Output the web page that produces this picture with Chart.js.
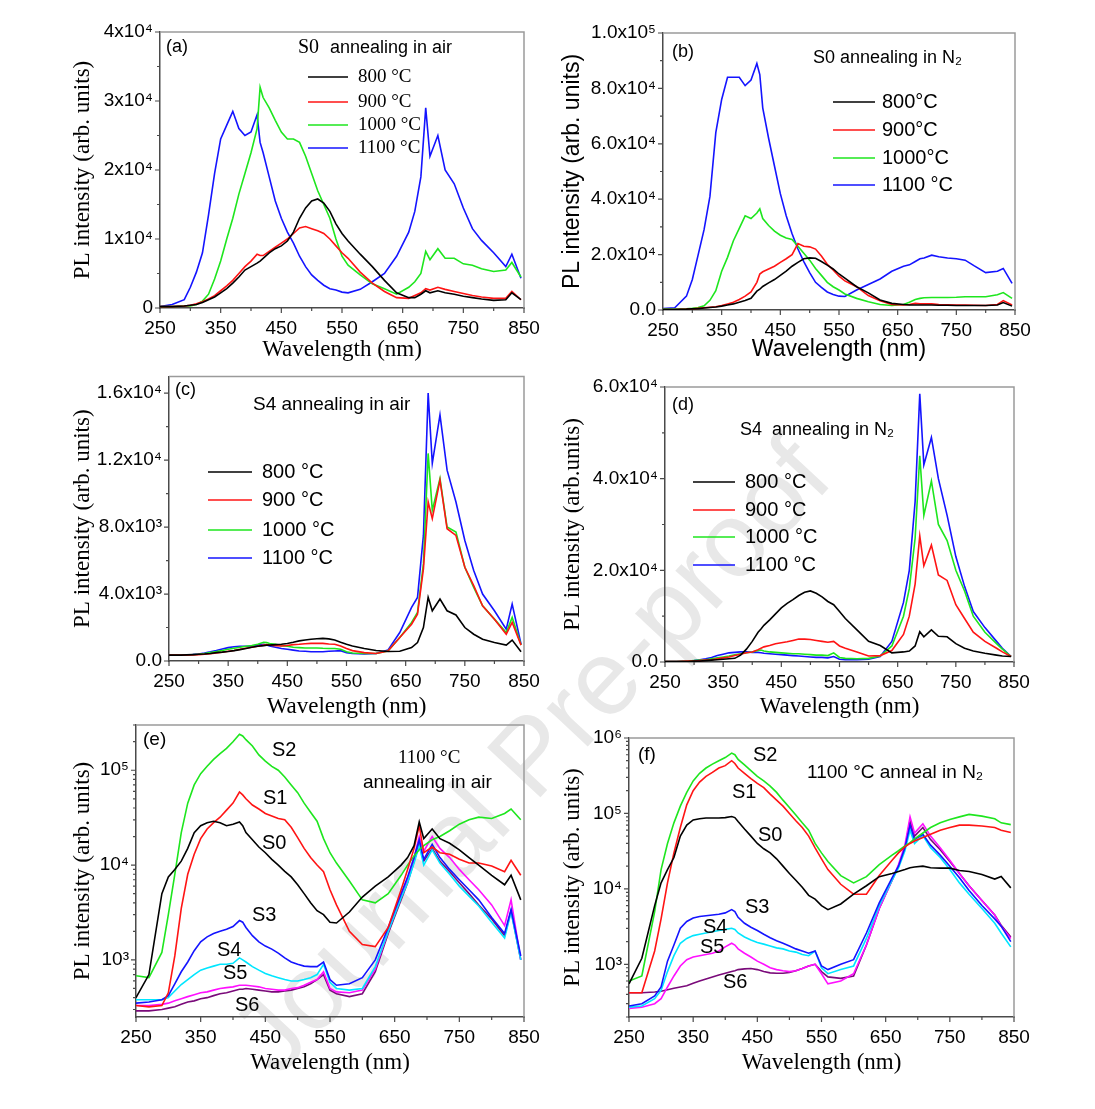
<!DOCTYPE html>
<html>
<head>
<meta charset="utf-8">
<title>PL spectra</title>
<script src="https://cdn.jsdelivr.net/npm/chart.js@4.4.0/dist/chart.umd.min.js"></script>
<style>
  body { margin: 0; background: #fff; width: 1095px; height: 1109px; position: relative; overflow: hidden; }
  canvas { position: absolute; }
  #wm {
    position: absolute; left: 530px; top: 755px;
    transform: translate(-50%, -50%) rotate(-47deg);
    font: 106px "Liberation Sans", Arial, sans-serif;
    color: #e8e8e8; white-space: nowrap;
  }
</style>
</head>
<body>
<div id="wm">Journal Pre-proof</div>
<canvas id="pa"></canvas>
<canvas id="pb"></canvas>
<canvas id="pc"></canvas>
<canvas id="pd"></canvas>
<canvas id="pe"></canvas>
<canvas id="pf"></canvas>
<script>
// wavelength grid (nm) shared by every spectrum
const WL = [250, 270, 290, 300, 310, 320, 330, 340, 350, 360,
            370, 380, 390, 400, 410, 415, 420, 430, 440, 450,
            460, 470, 480, 490, 500, 510, 520, 530, 540, 550,
            560, 580, 600, 620, 640, 660, 670, 680, 688, 695,
            708, 720, 735, 750, 765, 780, 800, 820, 830, 845];

const X_TICKS = [250, 350, 450, 550, 650, 750, 850];
const X_MINOR = [300, 400, 500, 600, 700, 800];

// (a) S0 annealing in air -- values in units of 1e4
const A_800 = [.02, .02, .03, .04, .05, .08, .12, .16, .22, .28,
               .36, .45, .55, .60, .65, .68, .72, .80, .86, .90,
               .97, 1.10, 1.30, 1.45, 1.55, 1.58, 1.52, 1.40, 1.22, 1.08,
               .97, .78, .60, .40, .22, .15, .15, .20, .25, .22,
               .25, .22, .20, .17, .15, .13, .11, .12, .22, .12];
const A_900 = [.02, .02, .03, .04, .06, .09, .13, .18, .25, .32,
               .40, .50, .60, .68, .78, .76, .76, .82, .88, .94,
               1.00, 1.08, 1.16, 1.18, 1.15, 1.12, 1.08, 1.00, .90, .80,
               .72, .52, .36, .24, .15, .14, .18, .22, .28, .26,
               .30, .27, .24, .21, .18, .16, .14, .14, .24, .12];
const A_1000 = [.02, .02, .03, .03, .05, .10, .20, .42, .68, 1.00,
                1.30, 1.65, 1.95, 2.25, 2.60, 3.20, 3.05, 2.90, 2.72, 2.55,
                2.45, 2.45, 2.40, 2.20, 1.95, 1.70, 1.50, 1.30, 1.00, .75,
                .62, .48, .35, .28, .20, .30, .38, .50, .82, .70,
                .86, .72, .72, .64, .62, .57, .53, .55, .66, .45];
const A_1100 = [.02, .05, .12, .30, .52, .80, 1.35, 1.95, 2.45, 2.65,
                2.85, 2.60, 2.50, 2.55, 2.80, 2.40, 2.25, 1.90, 1.55, 1.30,
                1.10, .94, .75, .60, .48, .40, .33, .28, .26, .23,
                .22, .27, .38, .50, .75, 1.10, 1.40, 1.90, 2.90, 2.20,
                2.50, 2.00, 1.80, 1.45, 1.15, .98, .80, .60, .78, .43];
const Y_TICKS_A = [0, 1e4, 2e4, 3e4, 4e4];
const Y_LABELS_A = ['0', '1x10⁴', '2x10⁴', '3x10⁴', '4x10⁴'];
const Y_MINOR_A = [5e3, 1.5e4, 2.5e4, 3.5e4];

// (b) S0 annealing in N2 -- units of 1e4
const B_800 = [.02, .02, .03, .04, .05, .07, .09, .11, .14, .18,
               .22, .28, .34, .42, .68, .75, .85, .98, 1.10, 1.25,
               1.40, 1.58, 1.72, 1.85, 1.88, 1.87, 1.75, 1.62, 1.48, 1.30,
               1.15, .84, .62, .36, .24, .20, .18, .18, .18, .18,
               .18, .17, .17, .16, .16, .16, .16, .18, .27, .14];
const B_900 = [.02, .02, .03, .04, .06, .08, .10, .12, .16, .22,
               .28, .38, .50, .65, 1.00, 1.30, 1.38, 1.48, 1.58, 1.72,
               1.85, 2.00, 2.40, 2.30, 2.28, 2.20, 1.95, 1.65, 1.45, 1.22,
               1.05, .84, .52, .33, .20, .18, .20, .24, .22, .22,
               .22, .20, .19, .18, .18, .17, .16, .20, .34, .18];
const B_1000 = [.03, .03, .04, .06, .09, .15, .35, .70, 1.40, 1.90,
                2.50, 2.95, 3.40, 3.30, 3.50, 3.65, 3.30, 3.05, 2.85, 2.70,
                2.60, 2.55, 2.30, 2.05, 1.80, 1.50, 1.25, 1.00, .84, .72,
                .58, .42, .30, .20, .16, .20, .28, .38, .42, .44,
                .45, .45, .45, .46, .48, .48, .48, .55, .63, .42];
const B_1100 = [.05, .08, .50, 1.10, 2.00, 2.90, 4.10, 6.40, 7.60, 8.40,
                8.40, 8.40, 8.10, 8.30, 8.90, 8.50, 7.30, 6.20, 5.20, 4.20,
                3.40, 2.75, 2.20, 1.75, 1.35, 1.00, .82, .65, .56, .50,
                .49, .72, .92, 1.12, 1.40, 1.58, 1.63, 1.75, 1.85, 1.88,
                1.98, 1.92, 1.88, 1.85, 1.80, 1.60, 1.35, 1.40, 1.50, .96];
const Y_TICKS_B = [0, 2e4, 4e4, 6e4, 8e4, 1e5];
const Y_LABELS_B = ['0.0', '2.0x10⁴', '4.0x10⁴', '6.0x10⁴', '8.0x10⁴', '1.0x10⁵'];
const Y_MINOR_B = [1e4, 3e4, 5e4, 7e4, 9e4];

// (c) S4 annealing in air -- units of 1e3
const C_800 = [.35, .35, .38, .40, .42, .45, .50, .53, .57, .62,
               .68, .75, .82, .88, .92, .95, .95, .98, 1.00, 1.05,
               1.12, 1.20, 1.25, 1.30, 1.33, 1.35, 1.32, 1.25, 1.12, 1.00,
               .90, .75, .63, .57, .58, .80, 1.10, 2.00, 3.80, 3.00,
               3.70, 3.00, 2.75, 2.00, 1.60, 1.30, 1.10, .95, 1.25, .55];
const C_900 = [.35, .35, .36, .38, .40, .43, .48, .52, .58, .63,
               .70, .76, .82, .88, .95, .98, .95, .92, .90, .93,
               .98, 1.00, 1.03, 1.05, 1.05, 1.05, 1.02, 1.00, .90, .75,
               .62, .50, .45, .60, 1.40, 2.20, 2.80, 5.50, 9.50, 8.50,
               10.8, 7.90, 7.50, 5.60, 4.50, 3.30, 2.50, 1.60, 2.30, .95];
const C_1000 = [.35, .35, .37, .40, .44, .50, .56, .63, .70, .76,
                .82, .88, .93, 1.00, 1.12, 1.10, 1.05, 1.00, .92, .88,
                .82, .80, .78, .78, .78, .76, .75, .75, .70, .55,
                .48, .45, .45, .60, 1.40, 2.30, 2.90, 5.80, 12.4, 9.00,
                10.9, 8.00, 7.70, 5.60, 4.40, 3.30, 2.50, 1.70, 2.60, .95];
const C_1100 = [.35, .35, .38, .42, .48, .55, .63, .72, .80, .85,
                .88, .88, .90, .95, 1.00, .95, .90, .82, .75, .70,
                .65, .60, .58, .55, .55, .55, .58, .60, .62, .50,
                .45, .42, .45, .65, 1.70, 3.20, 3.80, 7.50, 16.0, 11.8,
                14.7, 11.4, 9.50, 7.20, 5.40, 4.00, 3.00, 1.90, 3.40, 1.00];
const Y_TICKS_C = [0, 4e3, 8e3, 1.2e4, 1.6e4];
const Y_LABELS_C = ['0.0', '4.0x10³', '8.0x10³', '1.2x10⁴', '1.6x10⁴'];
const Y_MINOR_C = [2e3, 6e3, 1e4, 1.4e4];

// (d) S4 annealing in N2 -- units of 1e4
const D_800 = [.01, .01, .01, .02, .02, .03, .04, .05, .06, .07,
               .08, .15, .28, .45, .65, .72, .80, .92, 1.05, 1.18,
               1.28, 1.36, 1.45, 1.52, 1.55, 1.50, 1.42, 1.32, 1.25, 1.10,
               .95, .70, .45, .36, .20, .22, .24, .35, .66, .55,
               .70, .56, .55, .40, .30, .24, .19, .15, .13, .12];
const D_900 = [.01, .01, .02, .02, .03, .04, .05, .07, .09, .11,
               .14, .17, .20, .22, .27, .30, .33, .36, .40, .42,
               .44, .47, .50, .50, .49, .47, .45, .43, .45, .35,
               .30, .22, .13, .14, .25, .60, 1.00, 1.70, 2.75, 2.10,
               2.55, 1.90, 1.78, 1.25, .95, .65, .45, .30, .22, .12];
const D_1000 = [.01, .01, .02, .03, .04, .05, .07, .09, .11, .13,
                .16, .18, .20, .22, .25, .26, .24, .22, .21, .20,
                .19, .18, .18, .17, .16, .15, .15, .14, .20, .10,
                .08, .07, .08, .13, .35, 1.00, 1.60, 2.70, 4.50, 3.20,
                3.95, 3.00, 2.65, 2.00, 1.55, 1.00, .65, .40, .28, .12];
const D_1100 = [.01, .01, .02, .03, .05, .07, .10, .14, .17, .20,
                .21, .22, .22, .21, .21, .20, .19, .18, .17, .16,
                .15, .14, .13, .12, .11, .10, .10, .09, .12, .06,
                .05, .05, .06, .12, .45, 1.30, 2.00, 3.50, 5.85, 4.30,
                4.90, 4.00, 3.20, 2.30, 1.65, 1.10, .75, .45, .30, .12];
const Y_TICKS_D = [0, 2e4, 4e4, 6e4];
const Y_LABELS_D = ['0.0', '2.0x10⁴', '4.0x10⁴', '6.0x10⁴'];
const Y_MINOR_D = [1e4, 3e4, 5e4];

// (e) 1100 C annealing in air, samples S0-S6 (log axis, raw counts)
const E_S0 = [400, 700, 5000, 7500, 9000, 11000, 15000, 22000, 26000, 28000,
              29000, 28000, 26000, 27000, 28500, 26000, 22000, 18500, 15500, 13500,
              11500, 10000, 8600, 7500, 6200, 5000, 4000, 3300, 3000, 2500,
              2450, 3200, 4600, 6000, 7500, 10000, 12000, 16000, 28500, 19000,
              24000, 19000, 17000, 14500, 12000, 10000, 7800, 6200, 7800, 4300];
const E_S1 = [330, 320, 330, 450, 1100, 3500, 8000, 13000, 19000, 24000,
              28000, 32000, 38000, 45000, 59000, 55000, 50000, 43000, 39000, 35000,
              33000, 31000, 30000, 25000, 19500, 15000, 12000, 10000, 8500, 5500,
              3800, 2000, 1450, 1380, 2200, 5500, 9000, 15000, 26000, 13500,
              15500, 13500, 13000, 11500, 10500, 10500, 9800, 8500, 11200, 7800];
const E_S2 = [680, 650, 1200, 3000, 8000, 22000, 45000, 70000, 92000, 110000,
              130000, 150000, 170000, 200000, 240000, 230000, 210000, 180000, 145000, 125000,
              110000, 100000, 85000, 70000, 58000, 45000, 36000, 29000, 19000, 13500,
              10500, 6800, 4300, 4000, 5000, 7800, 10000, 12500, 14500, 16000,
              18500, 20000, 23000, 27000, 30000, 32000, 31000, 35000, 39000, 30000];
const E_S3 = [350, 360, 380, 420, 560, 750, 950, 1250, 1550, 1750,
              1900, 2000, 2100, 2250, 2600, 2500, 2200, 1800, 1550, 1400,
              1300, 1180, 1050, 950, 900, 860, 850, 850, 950, 620,
              540, 560, 650, 1000, 2200, 5000, 7500, 12000, 18500, 11500,
              16500, 12000, 9000, 7000, 5500, 4300, 2800, 1900, 3400, 1100];
const E_S4 = [380, 380, 380, 400, 470, 550, 620, 700, 780, 820,
              860, 900, 900, 920, 1050, 1000, 950, 850, 780, 720,
              680, 650, 620, 600, 600, 620, 650, 700, 900, 580,
              500, 480, 500, 850, 2000, 4500, 6500, 10500, 16000, 10000,
              14500, 10500, 8000, 6000, 4700, 3700, 2500, 1700, 3200, 1000];
const E_S5 = [330, 330, 340, 350, 370, 390, 410, 430, 450, 460,
              480, 500, 510, 520, 540, 540, 540, 530, 520, 500,
              490, 480, 480, 500, 510, 540, 580, 620, 750, 500,
              460, 450, 480, 800, 2000, 4800, 7000, 12000, 20000, 14000,
              20000, 15000, 12000, 9000, 7000, 5500, 3800, 2300, 4300, 1000];
const E_S6 = [290, 290, 300, 310, 320, 340, 360, 370, 390, 400,
              420, 440, 450, 470, 490, 490, 500, 490, 480, 470,
              460, 460, 470, 480, 500, 520, 560, 620, 700, 480,
              440, 410, 440, 750, 1900, 4300, 6500, 11000, 17000, 11000,
              15000, 11000, 8500, 6500, 5000, 3800, 2700, 1800, 3300, 1000];
const Y_TICKS_E = [1e3, 1e4, 1e5];
const Y_LABELS_E = ['10³', '10⁴', '10⁵'];

// (f) 1100 C anneal in N2, samples S0-S6 (log axis, raw counts)
const F_S0 = [550, 1200, 6000, 12000, 18000, 26000, 50000, 70000, 82000, 85000,
              87000, 87000, 87000, 88000, 91000, 88000, 78000, 62000, 50000, 40000,
              34000, 30000, 25000, 20000, 16000, 13000, 10500, 8200, 7300, 6000,
              5300, 6300, 8500, 11000, 14500, 16000, 17000, 18000, 19000, 19500,
              20000, 19000, 18800, 18800, 17500, 17000, 15500, 13500, 14600, 10300];
const F_S1 = [420, 420, 1500, 4000, 12000, 30000, 65000, 130000, 200000, 260000,
              310000, 350000, 400000, 430000, 500000, 460000, 400000, 340000, 290000, 250000,
              220000, 180000, 150000, 125000, 100000, 80000, 65000, 50000, 35000, 25000,
              18000, 11500, 8500, 8500, 15000, 24000, 30000, 36000, 40000, 43000,
              48000, 53000, 60000, 65000, 70000, 70000, 68000, 65000, 60000, 56000];
const F_S2 = [600, 700, 5000, 18000, 40000, 75000, 125000, 190000, 270000, 340000,
              400000, 450000, 500000, 550000, 630000, 600000, 520000, 440000, 370000, 310000,
              270000, 230000, 190000, 150000, 120000, 95000, 75000, 60000, 40000, 30000,
              23000, 15000, 12000, 14500, 21000, 28000, 32000, 37000, 41000, 46000,
              55000, 65000, 75000, 83000, 90000, 97000, 92000, 85000, 75000, 71000];
const F_S3 = [280, 300, 380, 500, 1100, 1800, 3000, 3700, 4100, 4300,
              4400, 4500, 4600, 4800, 5300, 5000, 4200, 3500, 3100, 2800,
              2500, 2250, 2050, 1900, 1750, 1600, 1500, 1400, 1500, 950,
              850, 1000, 1150, 2600, 6500, 14000, 20000, 35000, 70000, 45000,
              53000, 38000, 28000, 20000, 14000, 9500, 6000, 4000, 3200, 2000];
const F_S4 = [270, 280, 350, 450, 800, 1300, 1900, 2200, 2400, 2500,
              2600, 2700, 2800, 2900, 3000, 2900, 2600, 2300, 2100, 1950,
              1850, 1750, 1650, 1600, 1500, 1450, 1350, 1300, 1500, 900,
              750, 850, 950, 2200, 6000, 13000, 19000, 32000, 60000, 40000,
              51000, 35000, 26000, 18000, 12000, 8500, 5500, 3500, 2600, 1700];
const F_S5 = [260, 270, 300, 350, 500, 700, 950, 1150, 1250, 1300,
              1350, 1400, 1500, 1700, 1900, 1800, 1600, 1400, 1250, 1100,
              1000, 900, 850, 820, 800, 820, 880, 950, 1000, 750,
              550, 600, 750, 1800, 5500, 13000, 21000, 38000, 90000, 55000,
              73000, 50000, 35000, 24000, 16000, 11000, 7000, 4500, 3200, 2200];
const F_S6 = [420, 420, 430, 440, 460, 480, 500, 520, 560, 600,
              640, 680, 720, 760, 800, 820, 850, 870, 880, 850,
              800, 770, 760, 760, 780, 820, 880, 950, 1000, 800,
              680, 650, 700, 1800, 5500, 13000, 20000, 35000, 80000, 50000,
              65000, 45000, 33000, 23000, 16000, 11000, 7000, 4500, 3300, 2300];
const Y_TICKS_F = [1e3, 1e4, 1e5, 1e6];
const Y_LABELS_F = ['10³', '10⁴', '10⁵', '10⁶'];

const TEMPS = ['800 °C', '900 °C', '1000 °C', '1100 °C'];
const TEMPS_B = ['800°C', '900°C', '1000°C', '1100 °C'];
const SAMPLES = ['S0', 'S1', 'S2', 'S3', 'S4', 'S5', 'S6'];

const SANS = '"Liberation Sans", Arial, sans-serif';
const SERIF = '"Liberation Serif", "Times New Roman", serif';
const AXIS = '#4a4a4a';
const FRAME = '#9a9a9a';
const C4 = ['#000000', '#ff1414', '#1ee61e', '#1414ff'];
const C7 = ['#000000', '#ff1414', '#1ee61e', '#1414ff', '#00e6ff', '#ff10ff', '#7a0a7a'];

const PANELS = [
  { id: 'pa', box: [40, 12, 510, 355], plot: [160, 524, 32, 308],
    yType: 'linear', yMin: 0, yMax: 4e4, unit: 1e4,
    yTicks: Y_TICKS_A, yLabels: Y_LABELS_A, yMinor: Y_MINOR_A,
    yTitle: 'PL intensity (arb. units)', titleFont: SERIF, yTitleX: 83, xTitleY: 350,
    series: [A_800, A_900, A_1000, A_1100], names: TEMPS, colors: C4,
    legend: { font: SERIF, size: 19, x1: 308, x2: 348, tx: 358, ys: [77, 102, 125, 148] },
    notes: [
      { t: '(a)', x: 166, y: 47, f: SANS, s: 18 },
      { t: 'S0', x: 298, y: 48, f: SERIF, s: 20 },
      { t: 'annealing in air', x: 330, y: 48, f: SANS, s: 18 }
    ] },
  { id: 'pb', box: [545, 12, 500, 355], plot: [663, 1015, 33, 310],
    yType: 'linear', yMin: 0, yMax: 1e5, unit: 1e4,
    yTicks: Y_TICKS_B, yLabels: Y_LABELS_B, yMinor: Y_MINOR_B,
    yTitle: 'PL intensity (arb. units)', titleFont: SANS, yTitleX: 573, xTitleY: 350,
    series: [B_800, B_900, B_1000, B_1100], names: TEMPS_B, colors: C4,
    legend: { font: SANS, size: 20, x1: 833, x2: 875, tx: 882, ys: [102, 130, 158, 185] },
    notes: [
      { t: '(b)', x: 672, y: 52, f: SANS, s: 18 },
      { t: 'S0 annealing in N₂', x: 813, y: 58, f: SANS, s: 18 }
    ] },
  { id: 'pc', box: [40, 358, 510, 367], plot: [169, 524, 374, 661],
    yType: 'linear', yMin: 0, yMax: 1.7e4, unit: 1e3,
    yTicks: Y_TICKS_C, yLabels: Y_LABELS_C, yMinor: Y_MINOR_C,
    yTitle: 'PL intensity (arb. units)', titleFont: SERIF, yTitleX: 83, xTitleY: 707,
    series: [C_800, C_900, C_1000, C_1100], names: TEMPS, colors: C4,
    legend: { font: SANS, size: 20, x1: 208, x2: 252, tx: 262, ys: [472, 500, 530, 558] },
    notes: [
      { t: '(c)', x: 175, y: 390, f: SANS, s: 18 },
      { t: 'S4 annealing in air', x: 253, y: 405, f: SANS, s: 19 }
    ] },
  { id: 'pd', box: [545, 358, 500, 367], plot: [665, 1014, 387, 662],
    yType: 'linear', yMin: 0, yMax: 6e4, unit: 1e4,
    yTicks: Y_TICKS_D, yLabels: Y_LABELS_D, yMinor: Y_MINOR_D,
    yTitle: 'PL intensity (arb.units)', titleFont: SERIF, yTitleX: 573, xTitleY: 707,
    series: [D_800, D_900, D_1000, D_1100], names: TEMPS, colors: C4,
    legend: { font: SANS, size: 20, x1: 693, x2: 735, tx: 745, ys: [482, 510, 537, 565] },
    notes: [
      { t: '(d)', x: 672, y: 405, f: SANS, s: 18 },
      { t: 'S4  annealing in N₂', x: 740, y: 430, f: SANS, s: 18 }
    ] },
  { id: 'pe', box: [40, 705, 510, 395], plot: [136, 524, 725, 1017],
    yType: 'logarithmic', yMin: 250, yMax: 3e5, unit: 1,
    yTicks: Y_TICKS_E, yLabels: Y_LABELS_E, yMinor: null,
    yTitle: 'PL intensity (arb. units)', titleFont: SERIF, yTitleX: 83, xTitleY: 1063,
    series: [E_S0, E_S1, E_S2, E_S3, E_S4, E_S5, E_S6], names: SAMPLES, colors: C7,
    legend: null,
    notes: [
      { t: '(e)', x: 143, y: 740, f: SANS, s: 19 },
      { t: 'S2', x: 272, y: 750, f: SANS, s: 20 },
      { t: '1100 °C', x: 398, y: 758, f: SERIF, s: 19 },
      { t: 'annealing in air', x: 363, y: 783, f: SANS, s: 19 },
      { t: 'S1', x: 263, y: 798, f: SANS, s: 20 },
      { t: 'S0', x: 262, y: 843, f: SANS, s: 20 },
      { t: 'S3', x: 252, y: 915, f: SANS, s: 20 },
      { t: 'S4', x: 217, y: 950, f: SANS, s: 20 },
      { t: 'S5', x: 223, y: 973, f: SANS, s: 20 },
      { t: 'S6', x: 235, y: 1005, f: SANS, s: 20 }
    ] },
  { id: 'pf', box: [545, 705, 500, 395], plot: [629, 1014, 738, 1017],
    yType: 'logarithmic', yMin: 200, yMax: 1e6, unit: 1,
    yTicks: Y_TICKS_F, yLabels: Y_LABELS_F, yMinor: null,
    yTitle: 'PL intensity (arb. units)', titleFont: SERIF, yTitleX: 573, xTitleY: 1063,
    series: [F_S0, F_S1, F_S2, F_S3, F_S4, F_S5, F_S6], names: SAMPLES, colors: C7,
    legend: null,
    notes: [
      { t: '(f)', x: 638, y: 755, f: SANS, s: 19 },
      { t: 'S2', x: 753, y: 755, f: SANS, s: 20 },
      { t: '1100 °C anneal in N₂', x: 807, y: 773, f: SANS, s: 19 },
      { t: 'S1', x: 732, y: 792, f: SANS, s: 20 },
      { t: 'S0', x: 758, y: 835, f: SANS, s: 20 },
      { t: 'S3', x: 745, y: 907, f: SANS, s: 20 },
      { t: 'S4', x: 703, y: 927, f: SANS, s: 20 },
      { t: 'S5', x: 700, y: 947, f: SANS, s: 20 },
      { t: 'S6', x: 723, y: 982, f: SANS, s: 20 }
    ] }
];

const PANEL_BY_ID = {};
PANELS.forEach(p => { PANEL_BY_ID[p.id] = p; });

// minor ticks of a log axis: 2..9 x each decade inside the range
function logMinor(min, max) {
  const out = [];
  for (let d = Math.floor(Math.log10(min)); d <= Math.ceil(Math.log10(max)); d++) {
    for (let k = 2; k <= 9; k++) {
      const v = k * Math.pow(10, d);
      if (v >= min && v <= max) out.push(v);
    }
  }
  return out;
}

// frame, outward tick marks, legend and text labels
const decoPlugin = {
  id: 'deco',
  afterDraw(chart) {
    const p = PANEL_BY_ID[chart.canvas.id];
    const ctx = chart.ctx;
    const a = chart.chartArea;
    const xs = chart.scales.x, ys = chart.scales.y;
    const ox = p.box[0], oy = p.box[1];

    ctx.save();
    // top and right edges of the frame
    ctx.strokeStyle = FRAME;
    ctx.lineWidth = 1.5;
    ctx.beginPath();
    ctx.moveTo(a.left, a.top); ctx.lineTo(a.right, a.top); ctx.lineTo(a.right, a.bottom);
    ctx.stroke();

    // tick marks
    ctx.strokeStyle = AXIS;
    ctx.lineWidth = 1.2;
    ctx.beginPath();
    X_TICKS.forEach(v => { const px = xs.getPixelForValue(v); ctx.moveTo(px, a.bottom); ctx.lineTo(px, a.bottom + 5); });
    X_MINOR.forEach(v => { const px = xs.getPixelForValue(v); ctx.moveTo(px, a.bottom); ctx.lineTo(px, a.bottom + 3); });
    p.yTicks.forEach(v => { const py = ys.getPixelForValue(v); ctx.moveTo(a.left, py); ctx.lineTo(a.left - 5, py); });
    const minor = p.yMinor || logMinor(p.yMin, p.yMax);
    minor.forEach(v => { const py = ys.getPixelForValue(v); ctx.moveTo(a.left, py); ctx.lineTo(a.left - 3, py); });
    ctx.stroke();

    ctx.fillStyle = '#000';
    ctx.textBaseline = 'middle';
    ctx.textAlign = 'left';

    // legend
    if (p.legend) {
      const lg = p.legend;
      ctx.font = lg.size + 'px ' + lg.font;
      p.names.forEach((name, i) => {
        ctx.strokeStyle = p.colors[i];
        ctx.lineWidth = 1.7;
        ctx.beginPath();
        ctx.moveTo(lg.x1 - ox, lg.ys[i] - oy);
        ctx.lineTo(lg.x2 - ox, lg.ys[i] - oy);
        ctx.stroke();
        ctx.fillText(name, lg.tx - ox, lg.ys[i] - oy);
      });
    }

    // annotations
    p.notes.forEach(n => {
      ctx.font = n.s + 'px ' + n.f;
      ctx.fillText(n.t, n.x - ox, n.y - oy);
    });
    ctx.restore();
  }
};

function makePanel(p) {
  const [bx, by, bw, bh] = p.box;
  const [pl, pr, pt, pb] = p.plot;
  const canvas = document.getElementById(p.id);
  canvas.width = bw;
  canvas.height = bh;
  canvas.style.left = bx + 'px';
  canvas.style.top = by + 'px';
  canvas.style.width = bw + 'px';
  canvas.style.height = bh + 'px';

  const titleSize = 23;
  const half = titleSize * 1.2 / 2;

  const datasets = p.series.map((arr, i) => ({
    label: p.names[i],
    data: WL.map((x, j) => ({ x: x, y: arr[j] * p.unit })),
    borderColor: p.colors[i],
    borderWidth: 1.6,
    pointRadius: 0,
    fill: false,
    tension: 0
  }));

  return new Chart(canvas, {
    type: 'line',
    data: { datasets: datasets },
    options: {
      responsive: false,
      animation: false,
      events: [],
      layout: { padding: { left: 0, top: pt - by, right: bx + bw - pr, bottom: 0 } },
      plugins: { legend: { display: false }, tooltip: { enabled: false } },
      scales: {
        x: {
          type: 'linear', min: 250, max: 850,
          afterBuildTicks: s => { s.ticks = X_TICKS.map(v => ({ value: v })); },
          afterFit: s => { s.height = by + bh - pb; },
          grid: { display: false, drawTicks: false },
          border: { display: true, color: AXIS, width: 1.5 },
          ticks: { color: '#000', font: { family: SANS, size: 19 }, padding: 9,
                   maxRotation: 0, autoSkip: false, callback: v => String(v) },
          title: { display: true, text: 'Wavelength (nm)', color: '#000',
                   font: { family: p.titleFont, size: titleSize },
                   padding: { top: 0, bottom: by + bh - p.xTitleY - half } }
        },
        y: {
          type: p.yType, min: p.yMin, max: p.yMax,
          afterBuildTicks: s => { s.ticks = p.yTicks.map(v => ({ value: v })); },
          afterFit: s => { s.width = pl - bx; },
          grid: { display: false, drawTicks: false },
          border: { display: true, color: AXIS, width: 1.5 },
          ticks: { color: '#000', font: { family: SANS, size: 19 }, padding: 7,
                   autoSkip: false, callback: (v, i) => p.yLabels[i] },
          title: { display: true, text: p.yTitle, color: '#000',
                   font: { family: p.titleFont, size: titleSize },
                   padding: { top: p.yTitleX - bx - half, bottom: 0 } }
        }
      }
    },
    plugins: [decoPlugin]
  });
}

PANELS.forEach(makePanel);
</script>
</body>
</html>
